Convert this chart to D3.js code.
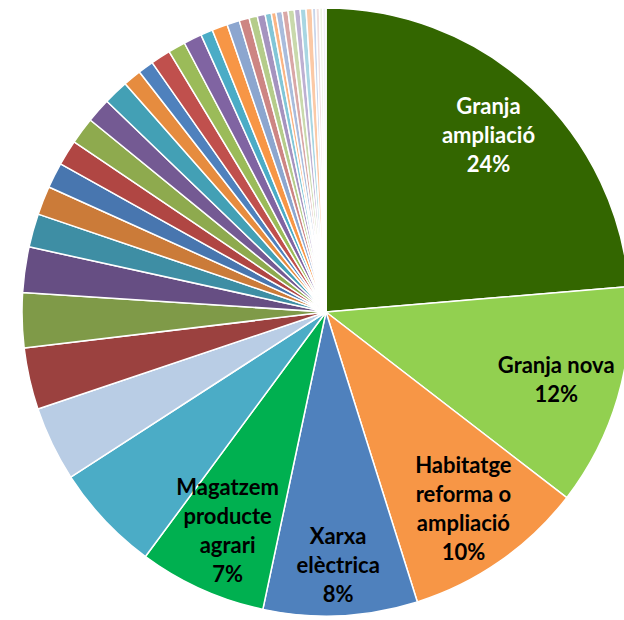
<html>
<head>
<meta charset="utf8">
<style>
  body { margin: 0; background: #fff; }
</style>
</head>
<body>
<div id="canvas"></div>
<script src="https://cdn.jsdelivr.net/npm/d3@7"></script>
<script>
// slice labels (only the five big ones carry a visible label)
const categories = [
  "Granja ampliació", "Granja nova", "Habitatge reforma o ampliació",
  "Xarxa elèctrica", "Magatzem producte agrari"
];
// labels split into lines as in the picture
const labelLines = [
  ["Granja", "ampliació"],
  ["Granja nova"],
  ["Habitatge", "reforma o", "ampliació"],
  ["Xarxa", "elèctrica"],
  ["Magatzem", "producte", "agrari"]
];
// share of every slice (%), read clockwise from 12 o'clock
const values = [
  23.7, 11.8, 9.7, 8.2, 6.8, 5.75, 3.97, 3.28, 2.92, 2.42,
  1.78, 1.53, 1.36, 1.36, 1.42, 1.31, 1.33, 0.97, 0.83, 1.06,
  0.92, 0.97, 0.64, 0.83, 0.67, 0.53, 0.44, 0.42, 0.33, 0.25,
  0.33, 0.31, 0.33, 0.31, 0.31, 0.33, 0.19, 0.19, 0.17, 0.17
];
const colors = [
  "#336600", "#92D050", "#F79646", "#4F81BD", "#00B050", "#4BACC6",
  "#B9CDE5", "#9B413F", "#7F9A48", "#664E83", "#3E8EA4", "#CB7B39",
  "#4876AF", "#B04643", "#8EAA4E", "#745A93", "#43A0B5", "#E68C3F",
  "#4F81BD", "#C0504D", "#9BBB59", "#8064A2", "#4BACC6", "#F79646",
  "#8CA6CF", "#CD8583", "#B5CC8A", "#A593BF", "#82C6D7", "#FAB584",
  "#A9BCDC", "#D9A7A6", "#C9D9AC", "#BDB0D2", "#A8D6E2", "#FBC9A6",
  "#C9D5EA", "#F0DEDD", "#EEF3E6", "#F1EEF5"
];
const labelColors = ["#ffffff", "#000000", "#000000", "#000000", "#000000"];

const W = 624, H = 620;
const cx = 326, cy = 312, R = 304;
// distance of each label block from the centre (Excel "best fit")
const labelRadius = [240, 240, 240, 253, 240];

const svg = d3.select("#canvas").append("svg")
    .attr("width", W)
    .attr("height", H)
    .attr("viewBox", `0 0 ${W} ${H}`);

const g = svg.append("g").attr("transform", `translate(${cx},${cy})`);

const pie = d3.pie().sort(null).value(d => d);
const arcs = pie(values);
const total = d3.sum(values);

const arc = d3.arc().innerRadius(0).outerRadius(R);

g.selectAll("path.slice")
  .data(arcs)
  .join("path")
  .attr("class", "slice")
  .attr("d", arc)
  .attr("fill", (d, i) => colors[i])
  .attr("stroke", "#ffffff")
  .attr("stroke-width", 1.5)
  .attr("stroke-linejoin", "round");

// data labels
const lh = 29;
const fmt = d3.format(".0%");
categories.forEach((name, i) => {
  const lines = labelLines[i].concat([fmt(values[i] / total)]);
  const labelArc = d3.arc().innerRadius(labelRadius[i]).outerRadius(labelRadius[i]);
  const [lx, ly] = labelArc.centroid(arcs[i]);
  const first = ly - (lines.length - 1) * lh / 2 + 8;
  const t = g.append("text")
    .attr("text-anchor", "middle")
    .attr("font-family", "Lato, 'Open Sans', sans-serif")
    .attr("font-weight", "bold")
    .attr("font-size", "22px")
    .attr("fill", labelColors[i]);
  lines.forEach((s, k) => {
    t.append("tspan")
      .attr("x", lx)
      .attr("y", first + k * lh)
      .text(s);
  });
});
</script>
</body>
</html>
